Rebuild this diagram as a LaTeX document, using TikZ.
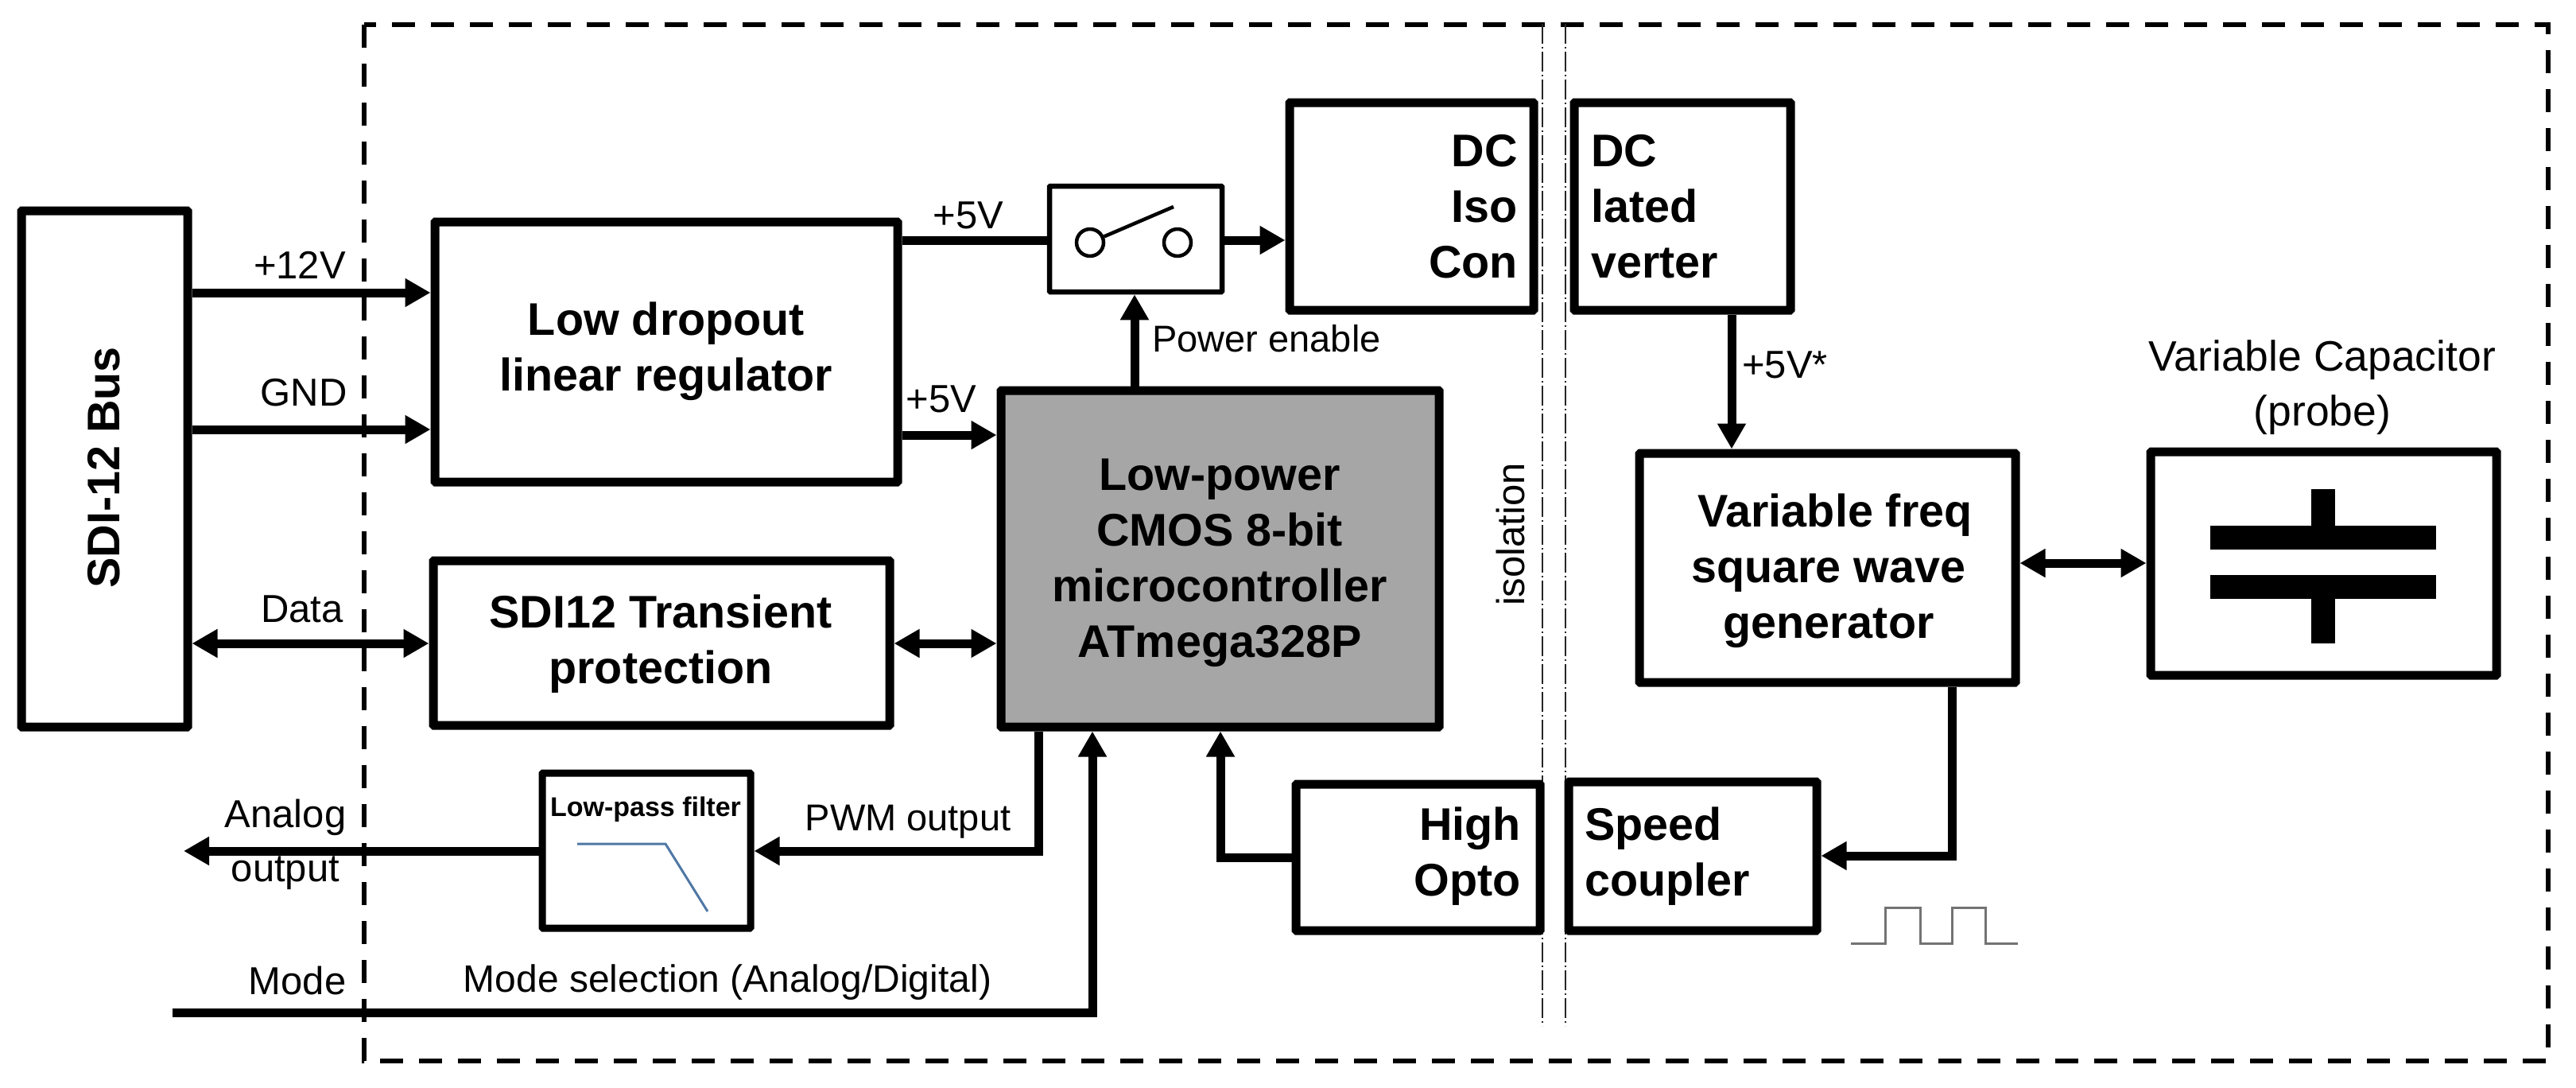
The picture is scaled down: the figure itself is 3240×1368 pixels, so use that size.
\documentclass[tikz,border=0pt]{standalone}
\usepackage{fontspec}
\setmainfont{Liberation Sans}
\usetikzlibrary{arrows.meta,calc}
\newcommand{\mybox}[6][]{%
  \pgfmathsetmacro{\bw}{#5-#3}\pgfmathsetmacro{\bh}{#6-#4}%
  \pgfmathsetmacro{\bcx}{(#3+#5)/2}\pgfmathsetmacro{\bcy}{(#4+#6)/2}%
  \node[box,#1,minimum width=\bw pt,minimum height=\bh pt] (#2) at (\bcx,\bcy) {};}
\tikzset{
  box/.style={draw=black,line width=11pt,inner sep=0pt,rounded corners=1pt},
  thin box/.style={line width=6.5pt},
  wire/.style={draw=black,line width=11pt,line join=miter},
  arr/.style={wire,-{Triangle[length=32pt,width=34pt]}},
  biarr/.style={wire,{Triangle[length=32pt,width=34pt]}-{Triangle[length=32pt,width=34pt]}},
  lbl/.style={inner sep=0pt,font=\fontsize{49}{68}\selectfont,align=center},
  blbl/.style={inner sep=0pt,font=\fontsize{57.5}{70}\selectfont\bfseries,align=center},
  blbll/.style={blbl,align=left},
  blblr/.style={blbl,align=right},
  iso/.style={draw=black!85,line width=2.4pt,dash pattern=on 25pt off 4pt on 2pt off 4pt},
  outer/.style={draw=black,line width=6.5pt,dash pattern=on 29pt off 20pt},
  swdot/.style={draw=black,line width=4.5pt,circle,inner sep=0pt,minimum size=34pt},
}
\begin{document}
\begin{tikzpicture}[x=1pt,y=-1pt]
\useasboundingbox (0,0) rectangle (3240,1368);
% outer dashed frame and isolation lines
\draw[outer] (458,31) rectangle (3205,1334);
\coordinate (isoAt) at (1940,30); \coordinate (isoAb) at (1940,1290);
\coordinate (isoBt) at (1969,30); \coordinate (isoBb) at (1969,1290);
\draw[iso] (isoAt) -- (isoAb);
\draw[iso] (isoBt) -- (isoBb);
% blocks
\mybox{bus}{27}{265}{236}{914}
\mybox{ldo}{547}{279}{1129}{606}
\mybox{tvs}{545}{705}{1119}{912}
\mybox[fill={rgb,255:red,166;green,166;blue,166}]{mcu}{1259}{491}{1810}{914}
\mybox[thin box]{sw}{1320}{234}{1537}{367}
\mybox{dcl}{1622}{129}{1929}{390}
\mybox{dcr}{1980}{129}{2252}{390}
\mybox{gen}{2062}{570}{2535}{858}
\mybox{cap}{2705}{568}{3140}{849}
\mybox[line width=9pt]{lpf}{682}{972}{944}{1167}
\mybox{optl}{1630}{986}{1937}{1170}
\mybox{optr}{1973}{983}{2285}{1170}
% block texts
\node[blbl,rotate=90] (busT) at (131,588) {SDI-12 Bus};
\node[blbl] (ldoT) at (838,442) {Low dropout\\linear regulator};
\node[blbl] (tvsT) at (831,810) {SDI12 Transient\\protection};
\node[blbl] (mcuT) at (1534,708) {Low-power\\CMOS 8-bit\\microcontroller\\ATmega328P};
\node[blblr,anchor=east] (dclT) at (1909,260) {DC\\Iso\\Con};
\node[blbll,anchor=west] (dcrT) at (2001,260) {DC\\lated\\verter};
\node[blbl] (genT) at (2300,718) {\hspace*{16pt}Variable freq\\square wave\\generator};
\node[blblr,anchor=east] (optlT) at (1913,1077) {High\\Opto};
\node[blbll,anchor=west] (optrT) at (1993,1077) {Speed\\coupler};
\node[inner sep=0pt,font=\fontsize{34}{40}\selectfont\bfseries] (lpfT) at (812,1018) {Low-pass filter};
% low-pass response curve
\draw[draw={rgb,255:red,79;green,120;blue,165},line width=3pt] (726,1061) -- (837,1061) -- (890,1146);
% switch symbol
\node[swdot] (swA) at (1371,305) {};
\node[swdot] (swB) at (1481,305) {};
\coordinate (lever) at (1476,260);
\draw[line width=4.5pt] (swA) -- (lever);
% capacitor symbol
\fill (2780,661) rectangle (3064,691);
\fill (2780,723) rectangle (3064,753);
\fill (2907,615) rectangle (2937,661);
\fill (2907,753) rectangle (2937,809);
% helper coordinates
\coordinate (yV12) at (0,368); \coordinate (yGnd) at (0,540); \coordinate (yData) at (0,809);
\coordinate (yLdo) at (0,547); \coordinate (ySw) at (0,302); \coordinate (yCap) at (0,708);
\coordinate (xEn) at (1427,0); \coordinate (xIso) at (2178,0); \coordinate (xSq) at (2455,0);
\coordinate (xHs) at (1535,0); \coordinate (xPwm) at (1306,0); \coordinate (xMode) at (1374,0);
\coordinate (yLp) at (0,1070); \coordinate (ySq) at (0,1076); \coordinate (yOpt) at (0,1078);
\coordinate (aout) at (231,1070); \coordinate (modeIn) at (217,1273);
% connectors
\draw[arr] (bus.east |- yV12) -- (ldo.west |- yV12);
\draw[arr] (bus.east |- yGnd) -- (ldo.west |- yGnd);
\draw[biarr] (bus.east |- yData) -- (tvs.west |- yData);
\draw[biarr] (tvs.east |- yData) -- (mcu.west |- yData);
\draw[arr] (ldo.east |- yLdo) -- (mcu.west |- yLdo);
\draw[wire] (ldo.east |- ySw) -- (sw.west |- ySw);
\draw[arr] (sw.east |- ySw) -- (dcl.west |- ySw);
\draw[arr] (xEn |- mcu.north) -- (xEn |- sw.south);
\draw[arr] (xIso |- dcr.south) -- (xIso |- gen.north);
\draw[biarr] (gen.east |- yCap) -- (cap.west |- yCap);
\draw[arr] (xSq |- gen.south) |- (optr.east |- ySq);
\draw[arr] (optl.west |- yOpt) -| (xHs |- mcu.south);
\draw[arr] (xPwm |- mcu.south) |- (lpf.east |- yLp);
\draw[arr] (lpf.west |- yLp) -- (aout);
\draw[arr] (modeIn) -| (xMode |- mcu.south);
% labels
\node[lbl] (l12) at (377,333) {+12V};
\node[lbl] (lgnd) at (382,494) {GND};
\node[lbl] (ldata) at (380,766) {Data};
\node[lbl] (l5a) at (1218,271) {+5V};
\node[lbl] (l5b) at (1184,502) {+5V};
\node[lbl,font=\fontsize{47}{60}\selectfont] (lpe) at (1593,426) {Power enable};
\node[lbl,rotate=90] (liso) at (1900,672) {isolation};
\node[lbl] (l5c) at (2245,459) {+5V*};
\node[lbl,font=\fontsize{53.5}{69}\selectfont] (lcap) at (2921,487) {Variable Capacitor\\(probe)};
\node[lbl,font=\fontsize{47}{60}\selectfont] (lpwm) at (1142,1033) {PWM output};
\node[lbl] (lana) at (359,1062) {Analog\\output};
\node[lbl] (lmode) at (374,1233) {Mode};
\node[lbl,font=\fontsize{48}{60}\selectfont] (lsel) at (915,1235) {Mode selection (Analog/Digital)};
% square wave
\draw[draw=black!55,line width=3pt] (2328,1186) -- (2371,1186) -- (2371,1141) -- (2415,1141) -- (2415,1186) -- (2455,1186) -- (2455,1141) -- (2497,1141) -- (2497,1186) -- (2538,1186);
\end{tikzpicture}
\end{document}
